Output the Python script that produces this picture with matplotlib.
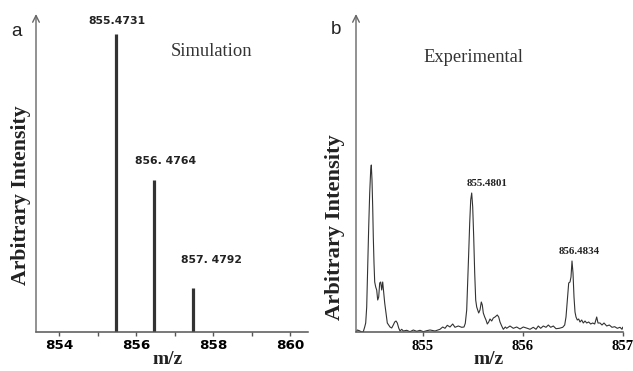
import matplotlib.pyplot as plt

# Panel a: simulated isotope pattern
sim_mz = [855.4731, 856.4764, 857.4792]
sim_int = [100, 51, 14.8]
sim_labels = ['855.4731', '856. 4764', '857. 4792']
sim_ticks = [854, 856, 858, 860]

# Panel b: experimental spectrum
exp_mz = [854.330, 854.343, 854.363, 854.387, 854.403, 854.417, 854.427, 854.437,
          854.447, 854.457, 854.467, 854.477, 854.483, 854.490, 854.497, 854.503,
          854.510, 854.517, 854.527, 854.537, 854.547, 854.557, 854.567, 854.577,
          854.587, 854.597, 854.607, 854.617, 854.630, 854.643, 854.657, 854.670,
          854.687, 854.703, 854.717, 854.730, 854.743, 854.757, 854.770, 854.787,
          854.803, 854.837, 854.870, 854.903, 854.937, 854.970, 855.003, 855.037,
          855.070, 855.120, 855.170, 855.197, 855.220, 855.243, 855.270, 855.297,
          855.320, 855.353, 855.387, 855.410, 855.423, 855.437, 855.447, 855.457,
          855.467, 855.477, 855.487, 855.497, 855.507, 855.517, 855.527, 855.537,
          855.547, 855.557, 855.570, 855.583, 855.593, 855.603, 855.617, 855.630,
          855.643, 855.657, 855.670, 855.687, 855.703, 855.720, 855.743, 855.757,
          855.770, 855.787, 855.803, 855.823, 855.837, 855.870, 855.903, 855.937,
          855.970, 856.003, 856.043, 856.070, 856.103, 856.130, 856.153, 856.177,
          856.203, 856.230, 856.253, 856.277, 856.303, 856.330, 856.363, 856.397,
          856.417, 856.430, 856.443, 856.457, 856.470, 856.480, 856.490, 856.500,
          856.510, 856.520, 856.530, 856.543, 856.557, 856.570, 856.587, 856.603,
          856.620, 856.637, 856.657, 856.677, 856.697, 856.717, 856.737, 856.750,
          856.770, 856.790, 856.810, 856.837, 856.863, 856.890, 856.917, 856.943,
          856.970, 856.990, 856.997]
exp_int = [0, 2, 1.3, 0, 0.3, 5, 9, 25,
           65, 105, 139, 162, 167, 152, 125, 95,
           69, 50, 45, 42, 32, 35, 49, 50,
           42, 50, 39, 29, 19, 9, 7, 5,
           4, 7, 10, 11, 9, 4, 1, 2.7,
           1, 1.7, 0.3, 2, 0.7, 1.7, 0.3, 1.3,
           2, 1, 2.7, 5, 3.7, 6.7, 5, 8,
           4.7, 6, 4.7, 5, 8.7, 22, 49, 79,
           109, 132, 139, 125, 95, 59, 32, 25,
           22, 19, 22, 30, 27, 19, 15, 12,
           8, 10, 13, 11, 14, 15, 17, 15,
           10, 6, 2.7, 5, 3.7, 6, 3.7, 5,
           3, 5, 3.7, 2.7, 4.7, 2.7, 6, 3.7,
           6, 4.7, 7, 4.7, 6, 3.3, 3.7, 4.7,
           7, 15, 32, 49, 50, 55, 71, 59,
           35, 20, 15, 12, 13, 10, 12, 9,
           11, 9, 10, 8, 9, 8, 15, 9,
           9, 7, 9, 6, 7, 4.7, 5.3, 3.7,
           4.7, 2.7, 4.7]
exp_peaks = [(855.645, 148, '855.4801'), (856.56, 81, '856.4834')]
exp_ticks = [855, 856, 857]

W, H = 633, 371
fig = plt.figure(figsize=(W / 100, H / 100), dpi=100)

def frac(x, y):
    return x / W, 1 - y / H

# ---- panel a ----
ax1 = fig.add_axes([36 / W, 39 / H, 272 / W, 318 / H])
ax1.vlines(sim_mz, 0, sim_int, color='#333333', lw=2.3)
ax1.set_xlim(853.4, 860.465)
ax1.set_ylim(0, 106.7)
for x, y, s in zip([855.50, 856.76, 857.97], [104.4, 57.4, 24.2], sim_labels):
    ax1.text(x, y, s, ha='center', va='center', fontsize=7.8,
             fontweight='bold', family='DejaVu Sans', color='#222222')
ax1.text(857.97, 94, 'Simulation', ha='center', va='center', fontsize=13.3,
         family='Liberation Serif', color='#333333')
ax1.set_xticks(range(854, 861))
ax1.set_xticklabels([str(t) if t in sim_ticks else '' for t in range(854, 861)],
                    fontsize=9.7, fontweight='bold', family='DejaVu Sans')
ax1.tick_params(axis='x', length=3, width=1, color='#555555', pad=2)
ax1.set_yticks([])

# ---- panel b ----
ax2 = fig.add_axes([356 / W, 39 / H, 267 / W, 318 / H])
ax2.plot(exp_mz, exp_int, color='#333333', lw=0.8)
ax2.set_xlim(854.33, 857.0)
ax2.set_ylim(0, 318)
for x, y, s in exp_peaks:
    ax2.text(x, y, s, ha='center', va='center', fontsize=7.8,
             fontweight='bold', family='Liberation Serif', color='#222222')
ax2.text(855.5, 274, 'Experimental', ha='center', va='center', fontsize=13.3,
         family='Liberation Serif', color='#333333')
ax2.set_xticks(exp_ticks)
ax2.set_xticklabels([str(t) for t in exp_ticks], fontsize=10.5,
                    fontweight='bold', family='Liberation Serif')
ax2.tick_params(axis='x', length=3, width=1, color='#555555', pad=3)
ax2.set_yticks([])

# axes styling: bottom line plus an arrow for the y axis
for ax in (ax1, ax2):
    for side in ('top', 'right', 'left'):
        ax.spines[side].set_visible(False)
    ax.spines['bottom'].set_color('#555555')
    ax.spines['bottom'].set_linewidth(1.1)
    ax.annotate('', xy=(0, 1), xytext=(0, 0), xycoords='axes fraction',
                arrowprops=dict(arrowstyle='->', color='#666666', lw=1,
                                mutation_scale=12, shrinkA=0, shrinkB=0))
    ax.patch.set_alpha(0)

# axis titles
for xc, yc, size in [(21, 195, 15.7), (335, 227, 16.2)]:
    fig.text(*frac(xc, yc), 'Arbitrary Intensity', rotation=90, ha='center',
             va='center', fontsize=size, fontweight='bold',
             family='Liberation Serif', color='#222222')
for xc in (168, 489):
    fig.text(*frac(xc, 359), 'm/z', ha='center', va='center', fontsize=14,
             fontweight='bold', family='Liberation Serif', color='#222222')

# panel letters
fig.text(*frac(16, 31), 'a', ha='center', va='center', fontsize=13.5,
         family='Liberation Sans', color='#222222')
fig.text(*frac(336, 30), 'b', ha='center', va='center', fontsize=13.5,
         family='Liberation Sans', color='#222222')

fig.savefig('out.png', dpi=100)
